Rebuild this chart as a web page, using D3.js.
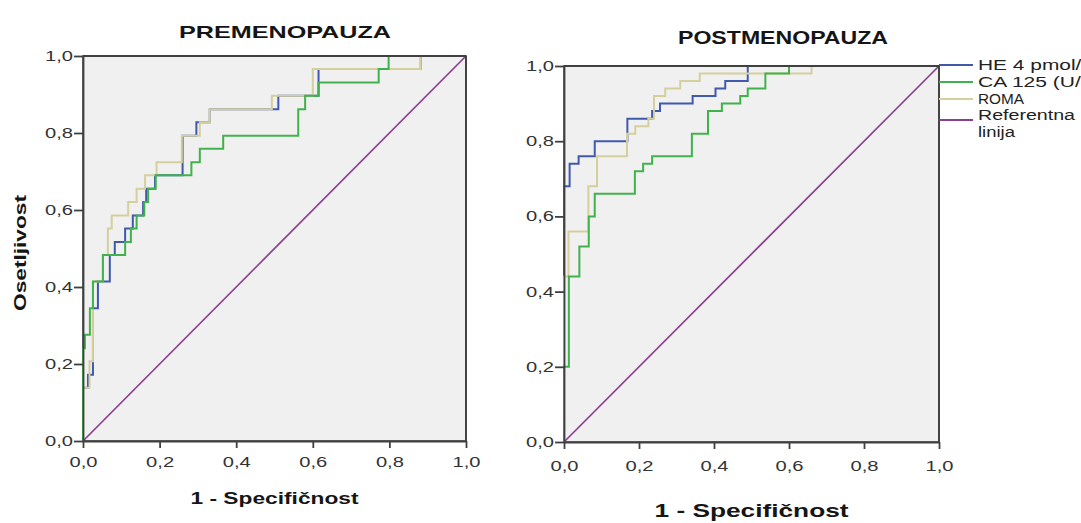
<!DOCTYPE html>
<html lang="sr">
<head>
    <meta charset="UTF-8">
    <title>ROC krive - premenopauza i postmenopauza</title>
    <style>
        body { margin: 0; background: #ffffff; }
        svg { display: block; }
        .plot-bg { fill: #f0f0f0; stroke: #454545; stroke-width: 1.6px; }
        .axis path, .axis line { stroke: #404040; stroke-width: 1.8px; }
        .axis text { font-family: "Liberation Sans", Arial, sans-serif; fill: #333; }
        .chart-title, .axis-title { font-family: "Liberation Sans", Arial, sans-serif; font-weight: bold; fill: #151515; }
        .legend-label { font-family: "Liberation Sans", Arial, sans-serif; font-size: 14px; fill: #222; }
        .roc-line { fill: none; stroke-width: 2px; }
    </style>
</head>
<body>
<svg id="chart" width="1081" height="523"></svg>

<script src="https://d3js.org/d3.v7.min.js"></script>
<script>
    // --- Data ---
    const tickValues = [0, 0.2, 0.4, 0.6, 0.8, 1.0];
    const seriesNames = ["HE 4 pmol/l", "CA 125 (U/ml)", "ROMA"];
    const refLabel = ["Referentna", "linija"];
    const panelTitles = ["PREMENOPAUZA", "POSTMENOPAUZA"];
    const xTitle = "1 - Specifičnost";
    const yTitle = "Osetljivost";

    // PREMENOPAUZA: step points (1 - specificity, sensitivity)
    const preHe4Fpr = [0, 0, 0.013, 0.026, 0.039, 0.07, 0.083, 0.11, 0.13, 0.157, 0.165, 0.188, 0.26, 0.296, 0.331, 0.51, 0.615, 0.882, 1];
    const preHe4Tpr = [0, 0.138, 0.172, 0.345, 0.414, 0.483, 0.517, 0.552, 0.586, 0.621, 0.655, 0.69, 0.793, 0.828, 0.862, 0.897, 0.966, 1, 1];
    const preCaFpr = [0, 0, 0.005, 0.018, 0.026, 0.052, 0.11, 0.125, 0.14, 0.16, 0.17, 0.19, 0.283, 0.305, 0.366, 0.562, 0.58, 0.615, 0.772, 0.798, 1];
    const preCaTpr = [0, 0.241, 0.276, 0.345, 0.414, 0.483, 0.517, 0.552, 0.586, 0.621, 0.655, 0.69, 0.724, 0.759, 0.793, 0.862, 0.897, 0.931, 0.966, 1, 1];
    const preRomaFpr = [0, 0, 0.017, 0.026, 0.052, 0.065, 0.075, 0.118, 0.14, 0.162, 0.192, 0.258, 0.305, 0.331, 0.493, 0.6, 0.882, 1];
    const preRomaTpr = [0, 0.138, 0.207, 0.414, 0.483, 0.552, 0.586, 0.621, 0.655, 0.69, 0.724, 0.793, 0.828, 0.862, 0.897, 0.966, 1, 1];

    // POSTMENOPAUZA
    const postHe4Fpr = [0, 0, 0.015, 0.039, 0.082, 0.169, 0.235, 0.256, 0.343, 0.404, 0.43, 0.49, 1];
    const postHe4Tpr = [0, 0.68, 0.74, 0.76, 0.80, 0.86, 0.88, 0.90, 0.92, 0.94, 0.96, 1, 1];
    const postCaFpr = [0, 0, 0.013, 0.041, 0.066, 0.082, 0.189, 0.211, 0.235, 0.341, 0.384, 0.421, 0.47, 0.49, 0.537, 0.6, 1];
    const postCaTpr = [0, 0.2, 0.44, 0.52, 0.6, 0.66, 0.72, 0.74, 0.76, 0.82, 0.88, 0.9, 0.92, 0.94, 0.98, 1, 1];
    const postRomaFpr = [0, 0, 0.012, 0.065, 0.088, 0.168, 0.19, 0.225, 0.24, 0.27, 0.31, 0.362, 0.66, 1];
    const postRomaTpr = [0, 0.44, 0.56, 0.68, 0.76, 0.82, 0.84, 0.86, 0.92, 0.94, 0.96, 0.98, 1, 1];

    const colors = ["#4059ad", "#40b24c", "#d4cf9c"];
    const refColor = "#8b3f90";

    const svg = d3.select("#chart");
    const locale = d3.formatLocale({ decimal: ",", thousands: ".", grouping: [3], currency: ["", ""] });
    const fmt = locale.format(".1f");

    const zip = (xs, ys) => xs.map((x, i) => [x, ys[i]]);

    // --- One ROC panel ---
    function drawPanel(cfg) {
        const x = d3.scaleLinear().domain([0, 1]).range([cfg.left, cfg.right]);
        const y = d3.scaleLinear().domain([0, 1]).range([cfg.bottom, cfg.top]);
        const g = svg.append("g");

        g.append("rect")
            .attr("class", "plot-bg")
            .attr("x", x(0)).attr("y", y(1))
            .attr("width", x(1) - x(0)).attr("height", y(0) - y(1));

        // reference diagonal
        g.append("line")
            .attr("x1", x(0)).attr("y1", y(0))
            .attr("x2", x(1)).attr("y2", y(1))
            .attr("stroke", refColor).attr("stroke-width", 1.7);

        const line = d3.line()
            .x(d => x(d[0]))
            .y(d => y(d[1]))
            .curve(d3.curveStepAfter);

        // draw order: HE4, ROMA, CA125 on top
        [0, 2, 1].forEach(i => {
            g.append("path")
                .datum(cfg.series[i])
                .attr("class", "roc-line")
                .attr("stroke", colors[i])
                .attr("d", line);
        });

        const xAxis = g.append("g")
            .attr("class", "axis")
            .attr("transform", `translate(0,${cfg.bottom})`)
            .call(d3.axisBottom(x).tickValues(tickValues).tickFormat(fmt).tickSize(7).tickSizeOuter(0));
        xAxis.selectAll("text")
            .style("font-size", cfg.tickFont + "px")
            .attr("y", cfg.xTickOffset)
            .attr("textLength", cfg.tickWidth)
            .attr("lengthAdjust", "spacingAndGlyphs");

        const yAxis = g.append("g")
            .attr("class", "axis")
            .attr("transform", `translate(${cfg.left},0)`)
            .call(d3.axisLeft(y).tickValues(tickValues).tickFormat(fmt).tickSize(9).tickSizeOuter(0));
        yAxis.selectAll("text")
            .style("font-size", cfg.tickFont + "px")
            .attr("x", -10)
            .attr("textLength", cfg.tickWidth)
            .attr("lengthAdjust", "spacingAndGlyphs");

        // top and right frame lines
        g.append("line")
            .attr("x1", x(0)).attr("x2", x(1)).attr("y1", y(1)).attr("y2", y(1))
            .attr("stroke", "#404040").attr("stroke-width", 1.8);
        g.append("line")
            .attr("x1", x(1)).attr("x2", x(1)).attr("y1", y(1)).attr("y2", y(0))
            .attr("stroke", "#404040").attr("stroke-width", 1.8);

        svg.append("text")
            .attr("class", "chart-title")
            .attr("x", cfg.titleX).attr("y", cfg.titleY)
            .attr("text-anchor", "middle")
            .style("font-size", cfg.titleFont + "px")
            .attr("textLength", cfg.titleWidth)
            .attr("lengthAdjust", "spacingAndGlyphs")
            .text(cfg.title);

        svg.append("text")
            .attr("class", "axis-title")
            .attr("x", (cfg.left + cfg.right) / 2).attr("y", cfg.xTitleY)
            .attr("text-anchor", "middle")
            .style("font-size", cfg.xTitleFont + "px")
            .attr("textLength", cfg.xTitleWidth)
            .attr("lengthAdjust", "spacingAndGlyphs")
            .text(xTitle);

        return { x, y };
    }

    // --- Left panel ---
    drawPanel({
        left: 83, right: 466, top: 56, bottom: 441,
        series: [zip(preHe4Fpr, preHe4Tpr), zip(preCaFpr, preCaTpr), zip(preRomaFpr, preRomaTpr)],
        title: panelTitles[0], titleX: 285, titleY: 38, titleFont: 17, titleWidth: 212,
        xTitleY: 504, xTitleFont: 17, xTitleWidth: 168,
        tickFont: 14, tickWidth: 28, xTickOffset: 16
    });

    svg.append("text")
        .attr("class", "axis-title")
        .attr("transform", "translate(26,253) rotate(-90)")
        .attr("text-anchor", "middle")
        .style("font-size", "17px")
        .attr("textLength", 116)
        .attr("lengthAdjust", "spacingAndGlyphs")
        .text(yTitle);

    // --- Right panel ---
    drawPanel({
        left: 564, right: 939, top: 66, bottom: 442,
        series: [zip(postHe4Fpr, postHe4Tpr), zip(postCaFpr, postCaTpr), zip(postRomaFpr, postRomaTpr)],
        title: panelTitles[1], titleX: 783, titleY: 44, titleFont: 18, titleWidth: 210,
        xTitleY: 517, xTitleFont: 19, xTitleWidth: 194,
        tickFont: 14, tickWidth: 28, xTickOffset: 19
    });

    // --- Legend (labels run past the right edge like in the source) ---
    const legendX0 = 939, legendX1 = 973, legendText = 978;
    const legendRows = [65, 82, 99];
    const legendWidths = [108, 132, 46];
    seriesNames.forEach((name, i) => {
        svg.append("line")
            .attr("x1", legendX0).attr("x2", legendX1)
            .attr("y1", legendRows[i]).attr("y2", legendRows[i])
            .attr("stroke", colors[i]).attr("stroke-width", 2);
        svg.append("text")
            .attr("class", "legend-label")
            .attr("x", legendText).attr("y", legendRows[i] + 5)
            .attr("textLength", legendWidths[i])
            .attr("lengthAdjust", "spacingAndGlyphs")
            .text(name);
    });
    svg.append("line")
        .attr("x1", legendX0).attr("x2", legendX1)
        .attr("y1", 120).attr("y2", 120)
        .attr("stroke", refColor).attr("stroke-width", 2);
    const refWidths = [97, 37];
    refLabel.forEach((t, i) => {
        svg.append("text")
            .attr("class", "legend-label")
            .attr("x", legendText).attr("y", 120 + i * 17)
            .attr("textLength", refWidths[i])
            .attr("lengthAdjust", "spacingAndGlyphs")
            .text(t);
    });
</script>
</body>
</html>
